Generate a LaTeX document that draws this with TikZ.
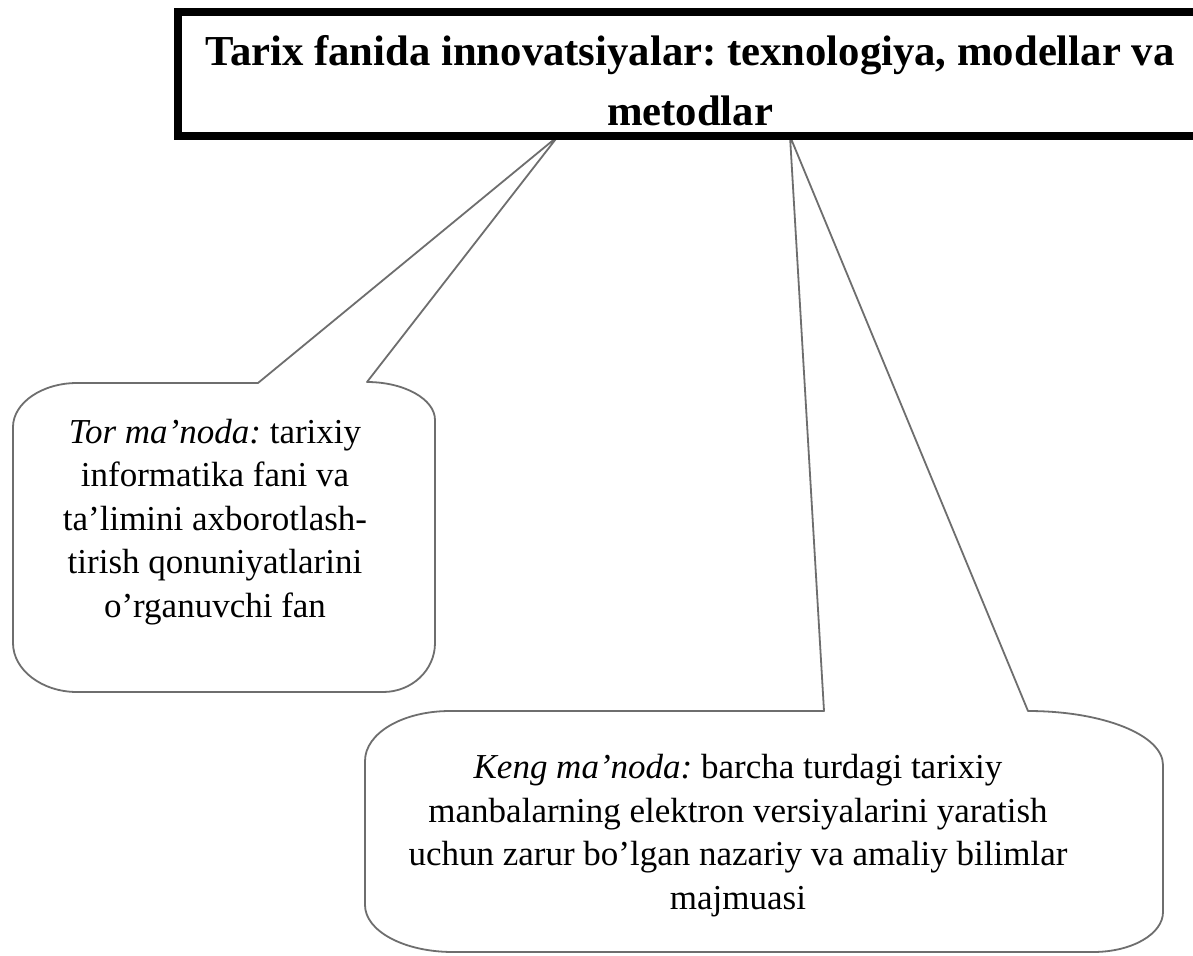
\documentclass[tikz,border=0pt]{standalone}
\usepackage{fontspec}
\setmainfont{Liberation Serif}
\usepackage{xcolor}
\frenchspacing

\definecolor{bubblegray}{RGB}{110,110,110}

\tikzset{
  bubble/.style={draw=bubblegray, line width=1.8pt, line join=round},
  bubbletext/.style={align=center, inner sep=0pt, font=\fontsize{35}{43.5}\selectfont},
  titlebox/.style={minimum width=1024pt, minimum height=124pt, inner sep=0pt},
  titleframe/.style={draw=black, line width=8pt},
  titletext/.style={align=center, inner sep=0pt, font=\bfseries\fontsize{42.7}{60}\selectfont}
}

\begin{document}
\begin{tikzpicture}[x=1pt,y=-1pt]
\useasboundingbox (0,0) rectangle (1193,955);
\clip (0,0) rectangle (1193,955);
\fill[white] (0,0) rectangle (1193,955);
% title
\node[titlebox] (title) at (690,74) {};
\node[titletext, anchor=base] (titleText) at (690,125) {Tarix fanida innovatsiyalar: texnologiya, modellar va\\metodlar};
\path (title.south) ++(-132,0) coordinate (torTip);
\path (title.south) ++(100,0) coordinate (kengTip);
% left callout
\draw[bubble] (258,383) -- (77,383) .. controls (42,383) and (13,403) .. (13,427)
  -- (13,643) .. controls (13,670) and (42,692) .. (77,692)
  -- (383,692) .. controls (412,692) and (435,670) .. (435,643)
  -- (435,420) .. controls (435,399) and (404,382) .. (367,382)
  -- (torTip) -- cycle;
\node[bubbletext, anchor=base] (tor) at (215,617) {\textit{Tor ma’noda:} tarixiy\\informatika fani va\\ta’limini axborotlash-\\tirish qonuniyatlarini\\o’rganuvchi fan};
% right callout
\draw[bubble] (824,711) -- (450,711) .. controls (403,711) and (365,733) .. (365,761)
  -- (365,905) .. controls (365,931) and (404,952) .. (453,952)
  -- (1093,952) .. controls (1132,952) and (1163,934) .. (1163,912)
  -- (1163,765) .. controls (1163,735) and (1103,711) .. (1028,711)
  -- (kengTip) -- cycle;
\node[bubbletext, anchor=base] (keng) at (738,909) {\textit{Keng ma’noda:} barcha turdagi tarixiy\\manbalarning elektron versiyalarini yaratish\\uchun zarur bo’lgan nazariy va amaliy bilimlar\\majmuasi};
% frame on top of the pointer tips
\draw[titleframe] (title.north west) rectangle (title.south east);
\end{tikzpicture}
\end{document}
